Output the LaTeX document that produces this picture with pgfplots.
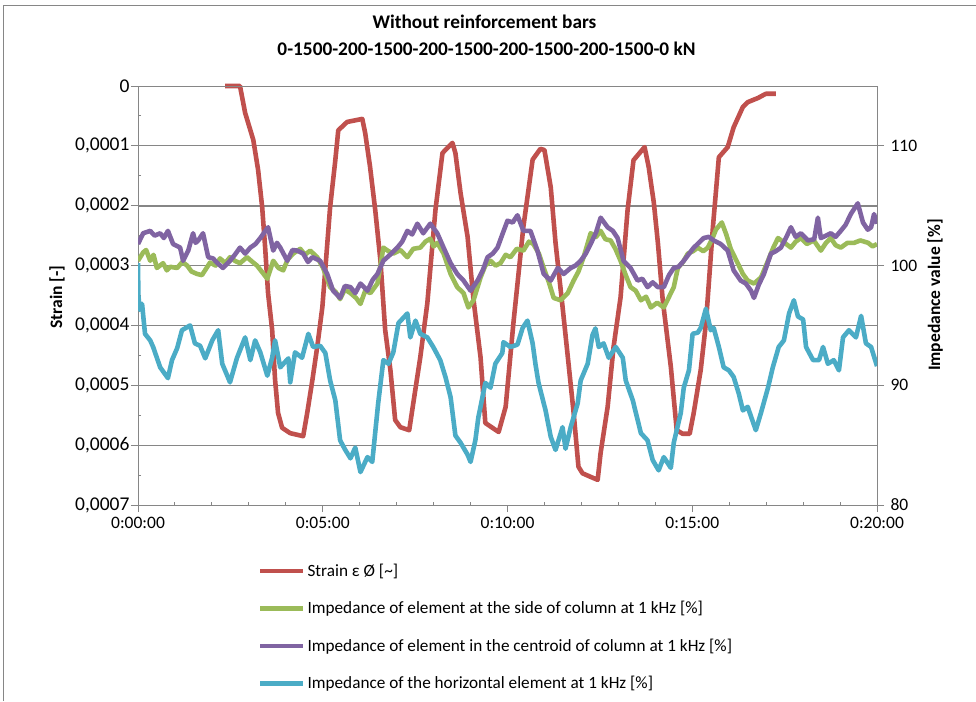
\documentclass[border=0pt]{standalone}
\usepackage{fontspec}
\setmainfont{Carlito}
\usepackage{pgfplots}
\pgfplotsset{compat=1.18}
\definecolor{cRed}{HTML}{C0504D}
\definecolor{cGreen}{HTML}{9BBB59}
\definecolor{cPurple}{HTML}{8064A2}
\definecolor{cCyan}{HTML}{4BACC6}
\definecolor{axgray}{HTML}{868686}
\newcommand\tickfont{\fontsize{17.5}{21}\selectfont}
\newcommand\ltickfont{\fontsize{19.5}{23}\selectfont}
\newcommand\legfont{\fontsize{17.2}{21}\selectfont}
\newcommand\titlefont{\fontsize{19.3}{23}\selectfont\bfseries}
\newcommand\axfont{\fontsize{17.5}{20}\selectfont\bfseries}
\begin{document}
\begin{tikzpicture}[x=1pt,y=1pt]
\begin{axis}[
  scale only axis, width=739pt, height=419pt,
  xmin=0, xmax=20, ymin=0, ymax=7, y dir=reverse,
  hide x axis, axis y line*=left,
  axis line style={draw=axgray, line width=1pt},
  ytick={0,1,2,3,4,5,6,7},
  yticklabels={0,{0,0001},{0,0002},{0,0003},{0,0004},{0,0005},{0,0006},{0,0007}},
  minor y tick num=1,
  ymajorgrids, grid style={draw=axgray, line width=1pt},
  extra y ticks={2}, extra y tick labels={},
  extra y tick style={grid style={draw=axgray, line width=2pt}},
  tick style={draw=axgray, line width=1pt},
  tick align=outside, major tick length=7pt, minor tick length=-3pt,
  yticklabel style={font=\ltickfont, xshift=2pt},
  clip=false,
]
\addplot[cRed, line width=4.6pt, line join=round] coordinates {
(2.36,0) (2.76,0) (2.90,0.45) (3.12,0.90) (3.25,1.40) (3.36,2.02) (3.44,2.69) (3.52,3.46)
(3.63,4.07) (3.71,4.91) (3.79,5.46) (3.90,5.71) (4.12,5.80) (4.47,5.85) (4.58,5.46) (4.72,4.91)
(4.85,4.36) (4.99,3.69) (5.20,2.02) (5.34,1.24) (5.42,0.74) (5.66,0.60) (6.07,0.55) (6.15,0.79)
(6.28,1.35) (6.42,2.07) (6.56,2.91) (6.69,4.08) (6.83,4.74) (6.96,5.58) (7.10,5.70) (7.34,5.75)
(7.45,5.30) (7.64,4.53) (7.83,3.63) (8.05,2.07) (8.24,1.12) (8.51,0.95) (8.59,1.12) (8.73,1.79)
(8.92,2.52) (9.08,3.57) (9.27,4.53) (9.40,5.63) (9.76,5.78) (9.95,5.36) (10.16,3.96) (10.43,2.35)
(10.68,1.23) (10.89,1.05) (11.00,1.07) (11.17,1.69) (11.30,2.62) (11.49,3.69) (11.65,4.63) (11.79,5.46)
(11.92,6.36) (12.03,6.47) (12.25,6.53) (12.44,6.58) (12.52,6.13) (12.71,5.36) (12.87,4.36) (13.06,3.53)
(13.25,2.07) (13.41,1.24) (13.71,1.02) (13.82,1.35) (13.96,1.95) (14.07,2.62) (14.20,3.57) (14.42,4.69)
(14.58,5.75) (14.74,5.81) (14.93,5.81) (15.04,5.46) (15.23,4.74) (15.37,3.96) (15.56,2.35) (15.72,1.19)
(15.96,1.02) (16.12,0.69) (16.37,0.35) (16.50,0.27) (16.78,0.20) (16.99,0.13) (17.26,0.13)
};
\end{axis}
\begin{axis}[
  scale only axis, width=739pt, height=419pt,
  xmin=0, xmax=20, ymin=80, ymax=115,
  axis line style={draw=axgray, line width=1pt},
  xtick={0,5,10,15,20}, xticklabels={0:00:00,0:05:00,0:10:00,0:15:00,0:20:00},
  minor x tick num=4,
  ytick={80,90,100,110}, yticklabels={80,90,100,110},
  xtick pos=left, ytick pos=right, yticklabel pos=right,
  tick style={draw=axgray, line width=1pt},
  tick align=outside, major tick length=7pt, minor tick length=-3pt,
  ticklabel style={font=\tickfont},
  xticklabel style={yshift=-2pt},
  yticklabel style={xshift=3pt},
  legend style={at={(0.158,-0.131)}, anchor=north west, draw=none, fill=none,
    font=\legfont, cells={anchor=west}, row sep=19.5pt, column sep=0pt},
  legend image code/.code={\draw[#1] (0pt,0pt) -- (43pt,0pt);},
]
\addlegendimage{cRed, line width=4.6pt}
\addlegendentry{Strain ε Ø [\textasciitilde]}
\addplot[cGreen, line width=4.6pt, line join=round] coordinates {
(0,100.4) (0.14,101.1) (0.22,101.3) (0.33,100.4) (0.42,100.9) (0.51,99.8) (0.68,100.2) (0.78,99.6) (0.87,99.9) (1.06,99.8)
(1.20,100.3) (1.33,100.0) (1.45,99.5) (1.60,99.3) (1.73,99.2) (1.95,100.25) (2.10,100.0) (2.22,100.6) (2.36,100.2) (2.49,100.7) (2.62,100.4) (2.76,100.2) (2.95,100.7)
(3.10,100.3) (3.22,100.0) (3.50,98.9) (3.66,100.4) (3.80,99.8) (3.93,99.6) (4.05,100.5) (4.20,101.0) (4.39,101.4) (4.52,100.9) (4.66,101.25) (4.85,100.7)
(5.01,99.8) (5.20,98.2) (5.35,97.8) (5.47,97.2) (5.60,98.0) (5.75,97.7) (5.90,97.3) (6.02,96.8) (6.15,97.9) (6.29,97.7) (6.48,98.5) (6.56,100.0)
(6.64,101.5) (6.78,101.2) (6.91,101.0) (7.10,101.3) (7.29,100.7) (7.45,101.4) (7.64,101.5) (7.78,102.0) (7.91,102.25) (8.00,101.6) (8.10,101.9) (8.27,101.0) (8.46,99.3)
(8.64,98.2) (8.81,97.7) (8.94,96.5) (9.08,97.1) (9.27,99.0) (9.40,100.0) (9.54,100.4) (9.68,100.0) (9.81,100.2) (9.95,100.9) (10.08,100.7) (10.25,101.4)
(10.43,101.25) (10.58,102.0) (10.70,101.8) (10.85,101.0) (10.98,99.8) (11.12,98.6) (11.25,97.3) (11.44,97.1) (11.63,97.7) (11.79,98.75) (11.92,99.5) (12.06,100.7)
(12.25,102.7) (12.40,102.4) (12.52,102.9) (12.65,102.2) (12.79,102.1) (12.92,101.4) (13.06,100.4) (13.20,99.2) (13.33,98.2) (13.47,97.9) (13.61,97.1) (13.75,97.4) (13.88,96.5) (14.05,96.9) (14.23,96.5)
(14.50,98.2) (14.61,99.8) (14.75,100.3) (14.88,101.0) (15.02,101.2) (15.15,101.5) (15.30,101.2) (15.42,101.5) (15.55,102.3) (15.64,103.0) (15.80,103.6) (15.92,102.6) (16.04,101.4)
(16.23,100.2) (16.37,99.3) (16.50,98.75) (16.67,98.5) (16.86,99.0) (17.05,100.4) (17.18,101.4) (17.32,102.3) (17.50,101.9) (17.67,101.5) (17.80,102.0) (17.94,102.3)
(18.10,101.8) (18.29,102.1) (18.48,101.25) (18.62,101.9) (18.75,102.3) (18.88,101.7) (19.02,101.5) (19.20,101.9) (19.38,101.9) (19.55,102.1) (19.76,101.9) (19.88,101.6) (20.0,101.8)
};
\addlegendentry{Impedance of element at the side of column at 1 kHz [\%]}
\addplot[cPurple, line width=4.6pt, line join=round] coordinates {
(0,101.8) (0.14,102.7) (0.33,102.9) (0.45,102.5) (0.60,102.7) (0.70,102.3) (0.81,102.9) (0.95,101.8) (1.14,101.5) (1.22,100.4)
(1.36,101.25) (1.49,102.7) (1.56,101.9) (1.63,102.1) (1.76,102.7) (1.90,100.7) (2.03,100.6) (2.15,100.2) (2.30,99.8) (2.49,100.4)
(2.62,100.9) (2.76,101.5) (2.90,101.0) (3.04,101.5) (3.18,101.8) (3.31,102.3) (3.52,103.2) (3.66,101.25) (3.76,101.9) (3.85,101.5) (4.04,100.4) (4.18,101.3) (4.31,101.25)
(4.47,101.0) (4.60,100.3) (4.72,100.7) (4.93,100.4) (5.12,99.3) (5.28,97.9) (5.47,97.3) (5.60,98.3) (5.75,98.2) (5.88,97.7) (6.02,98.5)
(6.21,97.9) (6.35,98.8) (6.48,99.3) (6.64,100.4) (6.82,100.9) (7.02,101.5) (7.15,102.0) (7.29,102.9) (7.42,102.6) (7.56,103.5) (7.72,102.7) (7.91,103.5)
(8.10,102.7) (8.27,101.5) (8.46,100.2) (8.64,99.3) (8.81,98.75) (9.00,97.9) (9.19,98.75) (9.33,99.6) (9.46,100.7) (9.60,101.0)
(9.73,101.5) (9.86,102.6) (10.00,103.75) (10.14,103.6) (10.27,104.2) (10.43,102.9) (10.62,102.9) (10.81,101.25) (10.98,99.3) (11.17,98.75)
(11.36,99.8) (11.52,99.3) (11.71,99.8) (11.84,100.0) (11.98,100.4) (12.12,101.0) (12.25,101.8) (12.40,102.8) (12.52,104.0) (12.71,103.2) (12.85,102.9) (12.98,102.3)
(13.14,100.4) (13.33,99.8) (13.52,98.75) (13.65,98.9) (13.79,98.2) (13.93,98.6) (14.07,98.2) (14.23,98.2) (14.37,99.2) (14.50,99.8) (14.63,99.9) (14.77,100.4)
(15.04,101.5) (15.18,101.9) (15.31,102.3) (15.45,102.4) (15.58,102.1) (15.77,101.8) (15.96,101.25) (16.12,99.6) (16.31,98.75) (16.45,98.5) (16.59,97.9)
(16.67,97.3) (16.80,98.4) (16.94,99.3) (17.13,101.0) (17.26,101.2) (17.40,101.5) (17.55,102.4) (17.67,103.2) (17.80,102.4) (17.94,102.7) (18.13,102.1) (18.30,102.2) (18.40,104.0)
(18.48,102.3) (18.62,102.5) (18.75,102.7) (18.88,102.4) (19.02,102.9) (19.15,103.4) (19.29,104.3) (19.48,105.2) (19.62,103.6) (19.75,103.0) (19.84,103.2) (19.92,104.3) (20.0,103.5)
};
\addlegendentry{Impedance of element in the centroid of column at 1 kHz [\%]}
\addplot[cCyan, line width=4.6pt, line join=round] coordinates {
(0,100.2) (0.01,97.5) (0.05,96.3) (0.11,96.8) (0.19,94.3) (0.33,93.75) (0.41,93.2) (0.60,91.5)
(0.81,90.6) (0.92,92.1) (1.06,93.1) (1.19,94.6) (1.41,95.0) (1.54,93.5) (1.68,93.3) (1.82,92.25)
(2.01,93.75) (2.17,94.6) (2.28,91.8) (2.49,90.25) (2.68,92.3) (2.90,94.0) (3.04,92.1) (3.17,93.75)
(3.31,92.75) (3.50,90.8) (3.63,92.3) (3.71,93.75) (3.85,91.5) (4.07,92.25) (4.12,90.25) (4.25,92.75)
(4.44,92.3) (4.61,94.3) (4.74,93.2) (4.93,93.3) (5.07,92.7) (5.20,90.4) (5.34,88.75) (5.47,85.4)
(5.61,84.6) (5.75,83.9) (5.88,84.8) (6.02,82.75) (6.21,84.0) (6.34,83.6) (6.50,88.5) (6.64,92.1)
(6.78,91.8) (6.91,92.75) (7.05,95.2) (7.29,96.0) (7.37,94.0) (7.51,95.4) (7.64,94.3) (7.83,94.0)
(7.99,93.2) (8.18,92.1) (8.32,90.7) (8.46,89.0) (8.59,85.8) (8.73,85.2) (8.92,84.2) (9.00,83.6)
(9.13,85.4) (9.21,87.3) (9.40,90.2) (9.54,89.8) (9.67,91.8) (9.86,92.7) (9.89,93.6) (10.08,93.2)
(10.27,93.4) (10.41,94.8) (10.54,95.4) (10.68,93.5) (10.76,91.7) (10.84,90.2) (11.03,87.9) (11.17,85.7)
(11.30,84.6) (11.49,86.5) (11.57,84.7) (11.71,86.5) (11.90,88.5) (11.98,90.4) (12.17,91.8) (12.30,94.2)
(12.38,94.75) (12.47,93.2) (12.60,93.5) (12.74,92.3) (12.93,93.2) (13.12,92.3) (13.20,90.4) (13.39,88.75)
(13.61,86.0) (13.79,85.4) (13.93,83.75) (14.09,82.9) (14.23,84.0) (14.42,83.1) (14.50,85.2) (14.69,87.7)
(14.77,89.8) (14.91,91.25) (15.01,94.3) (15.15,94.4) (15.23,94.8) (15.37,96.4) (15.50,94.6) (15.58,94.8)
(15.72,93.2) (15.85,91.5) (15.99,91.25) (16.12,90.7) (16.26,89.3) (16.37,87.9) (16.50,88.2) (16.72,86.25)
(16.86,87.7) (17.05,89.8) (17.18,91.5) (17.34,93.2) (17.48,93.75) (17.62,96.0) (17.75,97.1) (17.86,95.75)
(18.00,95.5) (18.08,93.2) (18.27,92.1) (18.43,92.1) (18.54,93.2) (18.67,91.8) (18.83,92.1) (18.97,91.25)
(19.08,94.0) (19.24,94.6) (19.43,94.0) (19.57,95.8) (19.70,93.5) (19.84,93.2) (20.0,91.6)
};
\addlegendentry{Impedance of the horizontal element at 1 kHz [\%]}
\end{axis}
\node[font=\titlefont] at (346.5pt,483pt) {Without reinforcement bars};
\node[font=\titlefont] at (348.5pt,456pt) {0-1500-200-1500-200-1500-200-1500-200-1500-0 kN};
\node[font=\axfont, rotate=90] at (-81pt,208pt) {Strain [-]};
\node[font=\axfont, rotate=90] at (797pt,210pt) {Impedance value [\%]};
\draw[axgray, line width=1pt] (-134pt,-196pt) -- (-134pt,499pt) -- (838pt,499pt);
\pgfresetboundingbox
\path (-138pt,-196pt) rectangle (838pt,505pt);
\end{tikzpicture}
\end{document}
